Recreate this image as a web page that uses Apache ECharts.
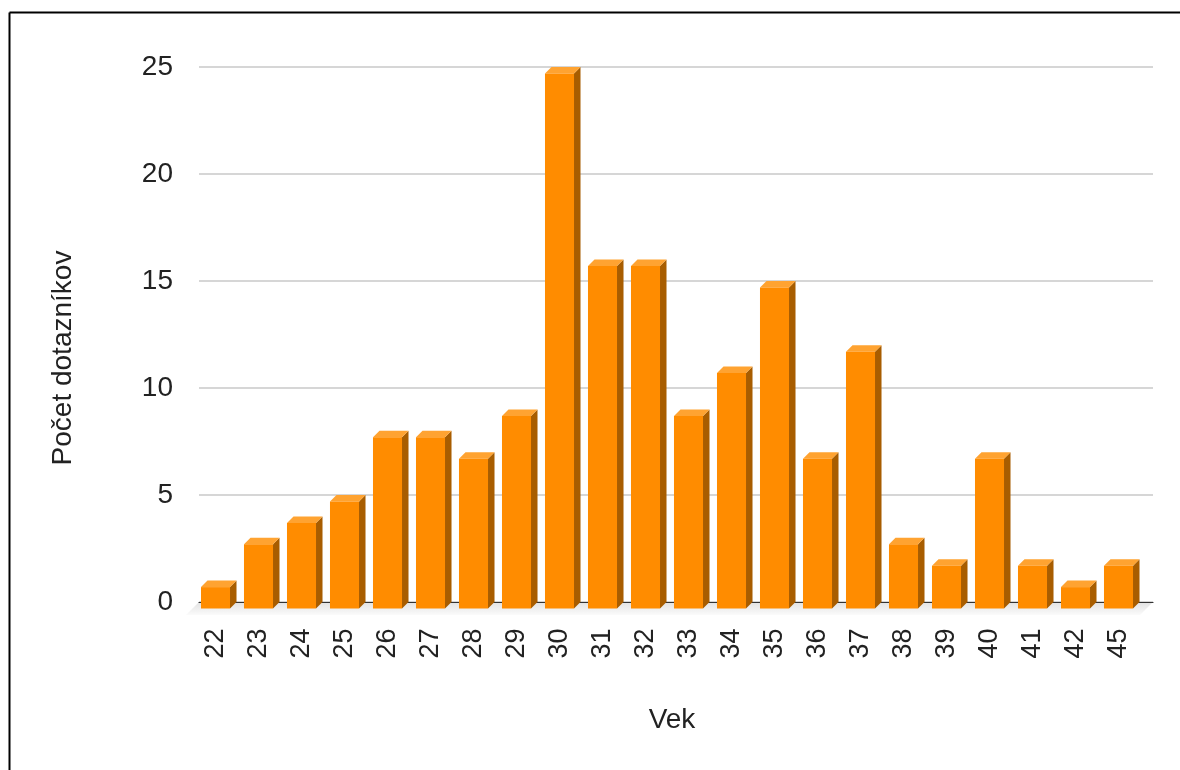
<!DOCTYPE html>
<html>
<head>
<meta charset="utf-8">
<title>Počet dotazníkov podľa veku</title>
<script src="https://cdn.jsdelivr.net/npm/echarts@6/dist/echarts.min.js"></script>
<style>
  html, body { margin: 0; padding: 0; background: #ffffff; }
  #chart { width: 1180px; height: 770px; }
</style>
</head>
<body>
<div id="chart"></div>
<script>
// Age groups and the number of questionnaires per age
const ages = ['22', '23', '24', '25', '26', '27', '28', '29', '30', '31', '32',
              '33', '34', '35', '36', '37', '38', '39', '40', '41', '42', '45'];
const counts = [1, 3, 4, 5, 8, 8, 7, 9, 25, 16, 16, 9, 11, 15, 7, 12, 3, 2, 7, 2, 1, 2];
const yTicks = [0, 5, 10, 15, 20, 25];

const FONT = '"Liberation Sans", Arial, sans-serif';
const DEPTH = 6.5;          // 3D offset of the back plane
const FRONT = '#ff8c00';
const SIDE = '#a85d00';
const TOP = '#ffa331';

const chart = echarts.init(document.getElementById('chart'), null, { renderer: 'canvas' });

// Bar with a front face, a right side and a top face
function renderBar(params, api) {
  const i = api.value(0);
  const v = api.value(1);
  const top = api.coord([i, v]);
  const base = api.coord([i, 0]);
  const w = api.size([1, 0])[0] * 0.675;
  const xl = top[0] - w / 2, xr = top[0] + w / 2;
  const yt = top[1], yb = base[1];
  const d = DEPTH;
  return {
    type: 'group',
    children: [
      { type: 'polygon', shape: { points: [[xr, yt], [xr + d, yt - d], [xr + d, yb - d], [xr, yb]] },
        style: { fill: SIDE } },
      { type: 'polygon', shape: { points: [[xl, yt], [xl + d, yt - d], [xr + d, yt - d], [xr, yt]] },
        style: { fill: TOP } },
      { type: 'rect', shape: { x: xl, y: yt, width: w, height: yb - yt },
        style: { fill: FRONT } }
    ]
  };
}

// Light floor under the plot area
function renderFloor(params, api) {
  const cs = params.coordSys;
  const y0 = cs.y + cs.height;
  const f = DEPTH * 2;
  return {
    type: 'polygon',
    shape: { points: [[cs.x, y0], [cs.x + cs.width, y0], [cs.x + cs.width - f, y0 + f], [cs.x - f, y0 + f]] },
    style: {
      fill: new echarts.graphic.LinearGradient(0, 0, 0, 1, [
        { offset: 0, color: '#e2e2e2' },
        { offset: 1, color: '#fbfbfb' }
      ])
    }
  };
}

const option = {
  backgroundColor: '#ffffff',
  animation: false,
  textStyle: { fontFamily: FONT },
  grid: [
    { left: 199, right: 27, top: 67, bottom: 168 },
    { left: 194, right: 40, top: 73.5, bottom: 161.5 }
  ],
  xAxis: [
    { gridIndex: 0, type: 'value', min: 0, max: 1, z: 3,
      axisLine: { show: true, onZero: false, lineStyle: { color: '#333333', width: 1.2 } },
      axisTick: { show: false }, axisLabel: { show: false }, splitLine: { show: false } },
    { gridIndex: 1, type: 'category', data: ages, boundaryGap: true,
      axisLine: { show: false }, axisTick: { show: false }, splitLine: { show: false },
      axisLabel: { rotate: 90, margin: 20, color: '#222222', fontSize: 27, fontFamily: FONT } }
  ],
  yAxis: [
    { gridIndex: 0, type: 'value', min: 0, max: 25, interval: 5,
      axisLine: { show: false }, axisTick: { show: false },
      axisLabel: { margin: 26, color: '#222222', fontSize: 28, fontFamily: FONT,
                   formatter: v => (yTicks.indexOf(v) >= 0 ? String(v) : '') },
      splitLine: { show: true, lineStyle: { color: '#d6d6d6', width: 2 } } },
    { gridIndex: 1, type: 'value', min: 0, max: 25, interval: 5, show: false }
  ],
  graphic: [
    { type: 'line', shape: { x1: 9.5, y1: 12.5, x2: 1180, y2: 12.5 },
      style: { stroke: '#000000', lineWidth: 2 }, z: 10 },
    { type: 'line', shape: { x1: 9.5, y1: 12.5, x2: 9.5, y2: 770 },
      style: { stroke: '#000000', lineWidth: 2 }, z: 10 },
    { type: 'text', x: 672, y: 720,
      style: { text: 'Vek', font: '28px ' + FONT, fill: '#222222', align: 'center', verticalAlign: 'middle' } },
    { type: 'text', x: 63, y: 358, rotation: Math.PI / 2,
      style: { text: 'Počet dotazníkov', font: '28px ' + FONT, fill: '#222222', align: 'center', verticalAlign: 'middle' } }
  ],
  series: [
    { type: 'custom', xAxisIndex: 0, yAxisIndex: 0, renderItem: renderFloor,
      data: [[0, 0]], z: 1, silent: true },
    { type: 'custom', xAxisIndex: 1, yAxisIndex: 1, renderItem: renderBar,
      encode: { x: 0, y: 1 },
      data: counts.map((c, i) => [i, c]), z: 5 }
  ]
};

chart.setOption(option);
</script>
</body>
</html>
